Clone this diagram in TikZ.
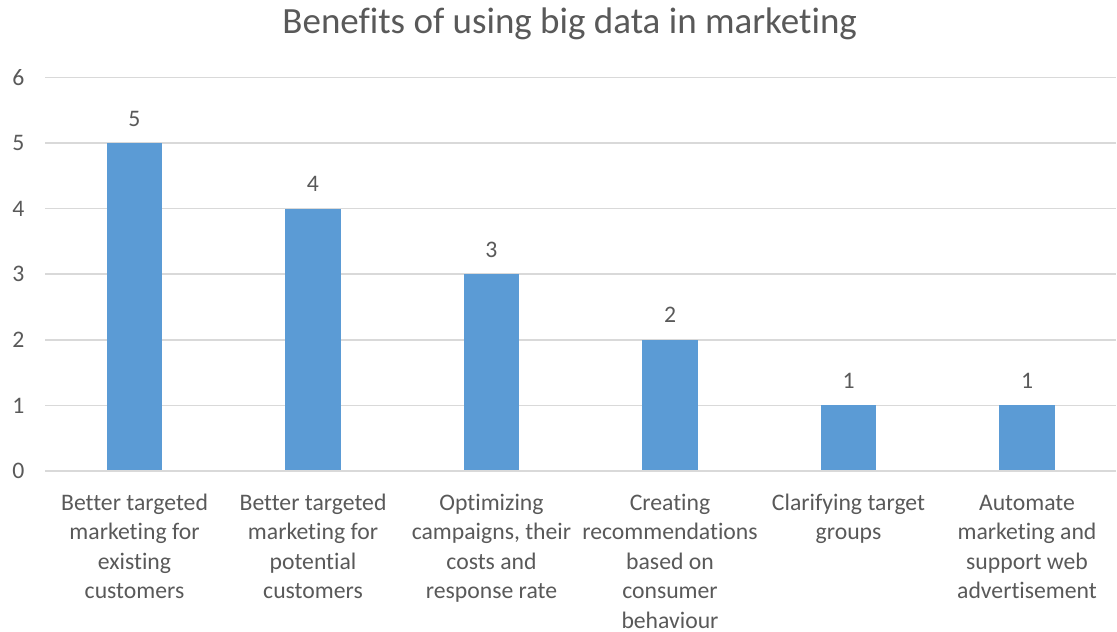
\documentclass[tikz,border=0pt]{standalone}
\usepackage{fontspec}
\setmainfont{Carlito}[Ligatures={NoCommon}]
\definecolor{txt}{HTML}{595959}
\definecolor{barc}{HTML}{5B9BD5}
\definecolor{gridc}{HTML}{D9D9D9}
\tikzset{
  grid line/.style={draw=gridc,line width=1.5pt},
  barbox/.style={fill=barc},
  lbl/.style={text=txt,inner sep=0pt,font=\fontsize{23.7}{29.5}\selectfont},
  catlbl/.style={lbl,align=center,anchor=base},
  titlelbl/.style={text=txt,inner sep=0pt,anchor=base,font=\fontsize{37}{42}\selectfont},
}
\begin{document}
\begin{tikzpicture}[x=1pt,y=-1pt]
\useasboundingbox (0,0) rectangle (1117,632);
\node[titlelbl] (title) at (569.7,33.5) {Benefits of using big data in marketing};
\foreach \v in {1,...,6} {
  \draw[grid line] (45.3,{471-65.6*\v}) -- (1116,{471-65.6*\v});
}
\foreach \v in {0,...,6} {
  \node[lbl,anchor=east] (tick\v) at (24.5,{471-65.6*\v}) {\v};
}
\foreach \i/\v in {0/5,1/4,2/3,3/2,4/1,5/1} {
  \fill[barbox] ({134.5+178.5*\i-27.8},471) rectangle ++(55.6,{-65.6*\v});
  \node[lbl,anchor=base] (val\i) at ({134.5+178.5*\i},{471-65.6*\v-17}) {\v};
}
\coordinate (axisL) at (45.3,471);
\coordinate (axisR) at (1116,471);
\draw[grid line] (axisL) -- (axisR);
% anchor=base is the baseline of the last line
\node[catlbl] (c0) at (134.5,598.5) {Better targeted\\marketing for\\existing\\customers};
\node[catlbl] (c1) at (313,598.5) {Better targeted\\marketing for\\potential\\customers};
\node[catlbl] (c2) at (491.5,598.5) {Optimizing\\campaigns, their\\costs and\\response rate};
\node[catlbl] (c3) at (670,628) {Creating\\recommendations\\based on\\consumer\\behaviour};
\node[catlbl] (c4) at (848.5,539.5) {Clarifying target\\groups};
\node[catlbl] (c5) at (1027,598.5) {Automate\\marketing and\\support web\\advertisement};
\end{tikzpicture}
\end{document}
